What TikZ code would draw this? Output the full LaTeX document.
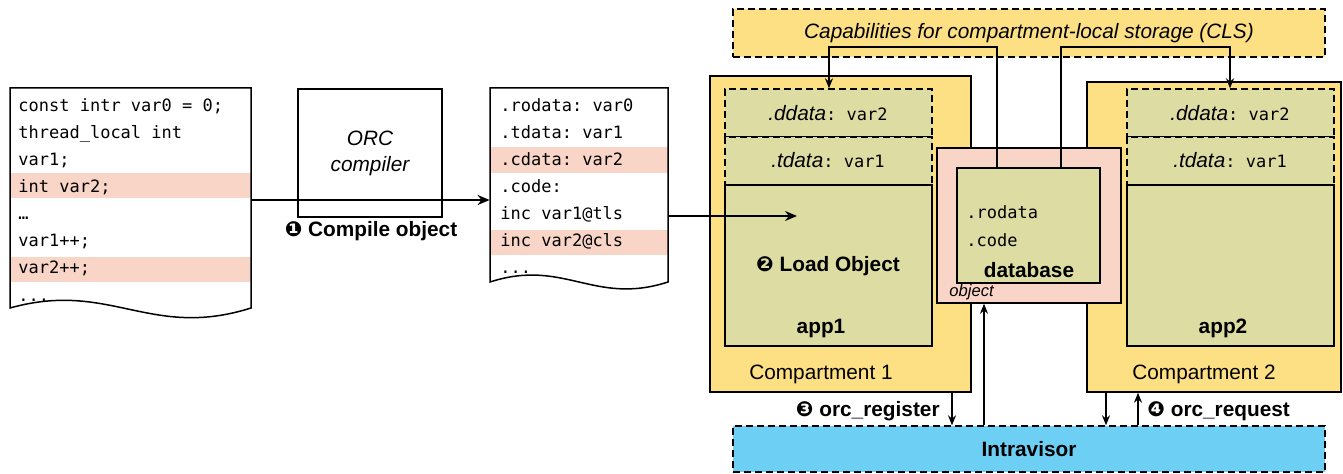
\documentclass[tikz,border=0pt]{standalone}
\usepackage{fontspec}
\setmainfont{Liberation Sans}
\setsansfont{Liberation Sans}
\setmonofont{DejaVu Sans Mono}
\newfontfamily\dingfont{DejaVu Sans}
\usetikzlibrary{arrows.meta,fit,calc}
\definecolor{compY}{HTML}{FDE084}
\definecolor{appG}{HTML}{DDDDA3}
\definecolor{objP}{HTML}{F9D5C7}
\definecolor{ivB}{HTML}{6DCFF3}
\newcommand{\dg}[1]{{\dingfont #1}}
\tikzset{
  lbl/.style={inner sep=0pt, anchor=base, font=\fontsize{10.4}{12}\selectfont},
  code/.style={inner sep=0pt, anchor=base west, font=\fontsize{8.5}{10}\ttfamily},
  plainbox/.style={draw, line width=0.75pt, inner sep=0pt},
  compbox/.style={plainbox, fill=compY},
  clsbox/.style={plainbox, fill=compY, dash pattern=on 3.5pt off 2pt, line width=0.6pt},
  secbox/.style={plainbox, fill=appG, dash pattern=on 3.5pt off 2pt, line width=0.7pt},
  appbox/.style={plainbox, fill=appG},
  objbox/.style={plainbox, fill=objP},
  ivbox/.style={plainbox, fill=ivB, dash pattern=on 3.5pt off 2pt, line width=0.7pt},
  bigarrow/.style={line width=1pt, -{Stealth[length=6pt,width=5pt]}},
  thinarrow/.style={line width=0.6pt, -{Stealth[length=5pt,width=4pt]}},
  ghost/.style={inner sep=0pt, draw=none}
}
\begin{document}
\begin{tikzpicture}[x=0.5pt,y=-0.5pt]
\useasboundingbox (0,0) rectangle (1343,474);

% ---------- left source document ----------
\def\ldocpath{(10,88) -- (251,88) -- (251,308) .. controls (150,340) and (110,280) .. (10,308) -- cycle}
\fill[white] \ldocpath;
\begin{scope}
  \clip \ldocpath;
  \fill[objP] (10,173) rectangle (251,198);
  \fill[objP] (10,257) rectangle (251,282);
  \node[code] (l1) at (18,112) {const intr var0 = 0;};
  \node[code] (l2) at (18,139) {thread\_local int};
  \node[code] (l3) at (18,166) {var1;};
  \node[code] (l4) at (18,193) {int var2;};
  \node[code] (l5) at (18,220) {…};
  \node[code] (l6) at (18,247) {var1++;};
  \node[code] (l7) at (18,274) {var2++;};
  \node[code] (l8) at (18,302) {...};
\end{scope}
\draw[line width=0.75pt] \ldocpath;
\node[ghost, fit={(10,88)(251,308)}] (ldoc) {};

% ---------- ORC compiler ----------
\node[plainbox, fit={(298,89)(442,217)}] (orc) {};
\node[inner sep=0pt, align=center, font=\fontsize{10.4}{13}\selectfont\itshape] (orct) at (orc.center) {ORC\\compiler};

% ---------- middle object document ----------
\def\mdocpath{(490,88) -- (668,88) -- (668,282) .. controls (594,306) and (564,258) .. (490,282) -- cycle}
\fill[white] \mdocpath;
\begin{scope}
  \clip \mdocpath;
  \fill[objP] (490,147) rectangle (668,173);
  \fill[objP] (490,230) rectangle (668,255);
  \node[code] (m1) at (500,112) {.rodata: var0};
  \node[code] (m2) at (500,139) {.tdata: var1};
  \node[code] (m3) at (500,166) {.cdata: var2};
  \node[code] (m4) at (500,193) {.code:};
  \node[code] (m5) at (500,220) {inc var1@tls};
  \node[code] (m6) at (500,247) {inc var2@cls};
  \node[code] (m7) at (500,274) {...};
\end{scope}
\draw[line width=0.75pt] \mdocpath;
\node[ghost, fit={(490,88)(668,282)}] (mdoc) {};

% compile arrow
\draw[bigarrow] (ldoc.east |- 0,200) -- (mdoc.west |- 0,200);
\node[lbl, font=\fontsize{10.4}{12}\selectfont\bfseries] (compl) at (371,237) {\dg{❶} Compile object};

% ---------- CLS box ----------
\node[clsbox, fit={(733,9)(1325,57)}] (cls) {};
\node[lbl, font=\fontsize{10.4}{12}\selectfont\itshape] (clst) at (1029,39) {Capabilities for compartment-local storage (CLS)};

% ---------- compartments ----------
\node[compbox, fit={(710,76)(971,392)}] (c1) {};
\node[compbox, fit={(1087,82)(1341,392)}] (c2) {};

\node[secbox, fit={(725,89)(932,137)}] (d1) {};
\node[secbox, fit={(725,137)(932,185)}] (t1) {};
\node[appbox, fit={(725,185)(932,346)}] (a1) {};
\node[secbox, fit={(1127,89)(1334,137)}] (d2) {};
\node[secbox, fit={(1127,137)(1334,185)}] (t2) {};
\node[appbox, fit={(1127,185)(1334,346)}] (a2) {};

\node[lbl] (d1t) at (828,121) {\textit{.ddata}\texttt{\fontsize{8.5}{10}\selectfont: var2}};
\node[lbl] (t1t) at (828,168) {\textit{.tdata}\texttt{\fontsize{8.5}{10}\selectfont: var1}};
\node[lbl] (d2t) at (1230,121) {\textit{.ddata}\texttt{\fontsize{8.5}{10}\selectfont: var2}};
\node[lbl] (t2t) at (1230,168) {\textit{.tdata}\texttt{\fontsize{8.5}{10}\selectfont: var1}};

\node[lbl, font=\fontsize{10.4}{12}\selectfont\bfseries] (load) at (828,272) {\dg{❷} Load Object};
\node[lbl, font=\fontsize{10.4}{12}\selectfont\bfseries] (app1) at (821,334) {app1};
\node[lbl, font=\fontsize{10.4}{12}\selectfont\bfseries] (app2) at (1223,334) {app2};
\node[lbl] (c1t) at (821,380) {Compartment 1};
\node[lbl] (c2t) at (1204,380) {Compartment 2};

% ---------- object / database ----------
\node[objbox, fit={(937,148)(1121,303)}] (obj) {};
\node[appbox, fit={(957,168)(1100,283)}] (db) {};
\node[code] (rod) at (966,219) {.rodata};
\node[code] (cod) at (966,247) {.code};
\node[lbl, font=\fontsize{10.4}{12}\selectfont\bfseries] (dbt) at (1029,278) {database};
\node[inner sep=0pt, anchor=base west, font=\fontsize{8.3}{10}\selectfont\itshape] (objt) at (949,297) {object};

% ---------- Intravisor ----------
\node[ivbox, fit={(733,426)(1325,472)}] (iv) {};
\node[lbl, font=\fontsize{10.4}{12}\selectfont\bfseries] (ivt) at (1029,457) {Intravisor};

% load arrow
\coordinate (loadtip) at (797,216);
\draw[bigarrow] (mdoc.east |- 0,216) -- (loadtip);

% CLS connectors
\draw[thinarrow] (db.north -| 997,0) |- (829,47) -- (d1.north -| 829,0);
\draw[thinarrow] (db.north -| 1061,0) |- (1230,47) -- (d2.north -| 1230,0);

% orc arrows
\draw[thinarrow] (c1.south -| 952,0) -- (iv.north -| 952,0);
\draw[thinarrow] (iv.north -| 984,0) -- (obj.south -| 984,0);
\draw[thinarrow] (c2.south -| 1106,0) -- (iv.north -| 1106,0);
\draw[thinarrow] (iv.north -| 1138,0) -- (c2.south -| 1138,0);

\node[inner sep=0pt, anchor=base east, font=\fontsize{10.4}{12}\selectfont\bfseries] (reg) at (940,417) {\dg{❸} orc\_register};
\node[inner sep=0pt, anchor=base west, font=\fontsize{10.4}{12}\selectfont\bfseries] (req) at (1147,417) {\dg{❹} orc\_request};
\end{tikzpicture}
\end{document}
